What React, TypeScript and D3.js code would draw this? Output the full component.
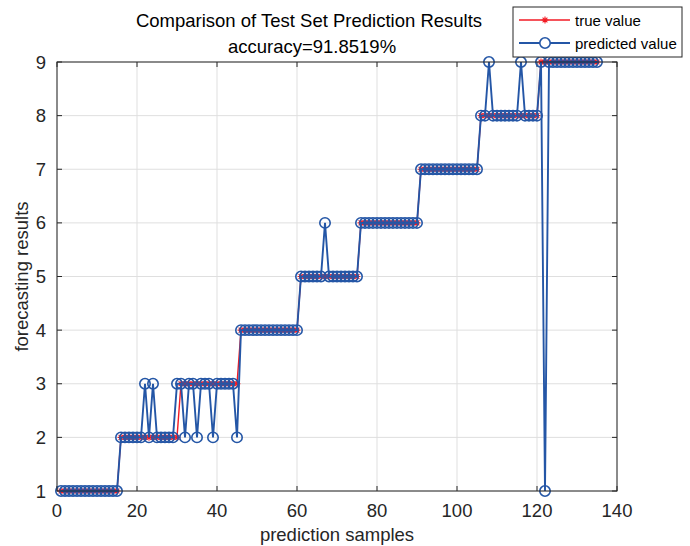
import React from "react";
import * as d3 from "d3";

const trueValues: number[] = [
  1, 1, 1, 1, 1, 1, 1, 1, 1, 1, 1, 1, 1, 1, 1,
  2, 2, 2, 2, 2, 2, 2, 2, 2, 2, 2, 2, 2, 2, 2,
  3, 3, 3, 3, 3, 3, 3, 3, 3, 3, 3, 3, 3, 3, 3,
  4, 4, 4, 4, 4, 4, 4, 4, 4, 4, 4, 4, 4, 4, 4,
  5, 5, 5, 5, 5, 5, 5, 5, 5, 5, 5, 5, 5, 5, 5,
  6, 6, 6, 6, 6, 6, 6, 6, 6, 6, 6, 6, 6, 6, 6,
  7, 7, 7, 7, 7, 7, 7, 7, 7, 7, 7, 7, 7, 7, 7,
  8, 8, 8, 8, 8, 8, 8, 8, 8, 8, 8, 8, 8, 8, 8,
  9, 9, 9, 9, 9, 9, 9, 9, 9, 9, 9, 9, 9, 9, 9,
];

const predictedValues: number[] = [
  1, 1, 1, 1, 1, 1, 1, 1, 1, 1, 1, 1, 1, 1, 1,
  2, 2, 2, 2, 2, 2, 3, 2, 3, 2, 2, 2, 2, 2, 3,
  3, 2, 3, 3, 2, 3, 3, 3, 2, 3, 3, 3, 3, 3, 2,
  4, 4, 4, 4, 4, 4, 4, 4, 4, 4, 4, 4, 4, 4, 4,
  5, 5, 5, 5, 5, 5, 6, 5, 5, 5, 5, 5, 5, 5, 5,
  6, 6, 6, 6, 6, 6, 6, 6, 6, 6, 6, 6, 6, 6, 6,
  7, 7, 7, 7, 7, 7, 7, 7, 7, 7, 7, 7, 7, 7, 7,
  8, 8, 9, 8, 8, 8, 8, 8, 8, 8, 9, 8, 8, 8, 8,
  9, 1, 9, 9, 9, 9, 9, 9, 9, 9, 9, 9, 9, 9, 9,
];

const xTicks = [0, 20, 40, 60, 80, 100, 120, 140];
const yTicks = [1, 2, 3, 4, 5, 6, 7, 8, 9];
const titleLine1 = "Comparison of Test Set Prediction Results";
const titleLine2 = "accuracy=91.8519%";
const xLabel = "prediction samples";
const yLabel = "forecasting results";
const legendLabels = ["true value", "predicted value"];

const RED = "#f21b24";
const BLUE = "#2456a6";
const AXIS = "#262626";
const GRID = "#dfdfdf";
const FONT = "'Liberation Sans', Arial, Helvetica, sans-serif";

const W = 690;
const H = 546;
const L = 57, R = 617, T = 62, B = 491;

function starPath(cx: number, cy: number, r: number) {
  const d = r * 0.707;
  return `M${cx - r},${cy}L${cx + r},${cy}M${cx},${cy - r}L${cx},${cy + r}` +
    `M${cx - d},${cy - d}L${cx + d},${cy + d}M${cx - d},${cy + d}L${cx + d},${cy - d}`;
}

export default function App() {
  const x = d3.scaleLinear().domain([0, 140]).range([L, R]);
  const y = d3.scaleLinear().domain([1, 9]).range([B, T]);
  const samples = trueValues.map((_, i) => i + 1);

  const line = d3.line<number>().x((_, i) => x(samples[i])).y((v) => y(v));

  return (
    <svg width={W} height={H} style={{ position: "absolute", left: 0, top: 0, background: "#fff" }}>
      <rect x={0} y={0} width={W} height={H} fill="#fff" />
      {/* grid */}
      {xTicks.map((t) => (
        <line key={"gx" + t} x1={x(t)} x2={x(t)} y1={T} y2={B} stroke={GRID} strokeWidth={1} />
      ))}
      {yTicks.map((t) => (
        <line key={"gy" + t} x1={L} x2={R} y1={y(t)} y2={y(t)} stroke={GRID} strokeWidth={1} />
      ))}
      {/* ticks */}
      {xTicks.map((t) => (
        <g key={"tx" + t}>
          <line x1={x(t)} x2={x(t)} y1={B} y2={B - 5} stroke={AXIS} />
          <line x1={x(t)} x2={x(t)} y1={T} y2={T + 5} stroke={AXIS} />
          <text x={x(t)} y={517} textAnchor="middle" fontFamily={FONT} fontSize={18.5} fill={AXIS}>{t}</text>
        </g>
      ))}
      {yTicks.map((t) => (
        <g key={"ty" + t}>
          <line x1={L} x2={L + 5} y1={y(t)} y2={y(t)} stroke={AXIS} />
          <line x1={R} x2={R - 5} y1={y(t)} y2={y(t)} stroke={AXIS} />
          <text x={46} y={y(t) + 6.5} textAnchor="end" fontFamily={FONT} fontSize={18.5} fill={AXIS}>{t}</text>
        </g>
      ))}
      {/* true series */}
      <path d={line(trueValues) || ""} fill="none" stroke={RED} strokeWidth={1.4} />
      {trueValues.map((v, i) => (
        <path key={"s" + i} d={starPath(x(samples[i]), y(v), 3.4)} stroke={RED} strokeWidth={1.1} fill="none" />
      ))}
      {/* predicted series */}
      <path d={line(predictedValues) || ""} fill="none" stroke={BLUE} strokeWidth={1.9} />
      {predictedValues.map((v, i) => (
        <circle key={"c" + i} cx={x(samples[i])} cy={y(v)} r={5.2} fill="none" stroke={BLUE} strokeWidth={1.6} />
      ))}
      {/* box */}
      <rect x={L} y={T} width={R - L} height={B - T} fill="none" stroke={AXIS} strokeWidth={1} />
      {/* titles */}
      <text x={309} y={27} textAnchor="middle" fontFamily={FONT} fontSize={18.5} fill="#000">{titleLine1}</text>
      <text x={312} y={53} textAnchor="middle" fontFamily={FONT} fontSize={18.5} fill="#000">{titleLine2}</text>
      {/* axis labels */}
      <text x={(L + R) / 2} y={541} textAnchor="middle" fontFamily={FONT} fontSize={18.5} fill={AXIS}>{xLabel}</text>
      <text transform={`translate(28,${(T + B) / 2}) rotate(-90)`} textAnchor="middle" fontFamily={FONT} fontSize={18.5} fill={AXIS}>{yLabel}</text>
      {/* legend */}
      <rect x={513} y={7} width={169} height={50} fill="#fff" stroke={AXIS} strokeWidth={1} />
      <line x1={519} x2={570} y1={20} y2={20} stroke={RED} strokeWidth={1.4} />
      <path d={starPath(545, 20, 3.4)} stroke={RED} strokeWidth={1.1} fill="none" />
      <text x={575} y={25.5} fontFamily={FONT} fontSize={15} fill="#000">{legendLabels[0]}</text>
      <line x1={519} x2={570} y1={43} y2={43} stroke={BLUE} strokeWidth={1.9} />
      <circle cx={545} cy={43} r={5.2} fill="#fff" stroke={BLUE} strokeWidth={1.6} />
      <text x={575} y={48.5} fontFamily={FONT} fontSize={15} fill="#000">{legendLabels[1]}</text>
    </svg>
  );
}
